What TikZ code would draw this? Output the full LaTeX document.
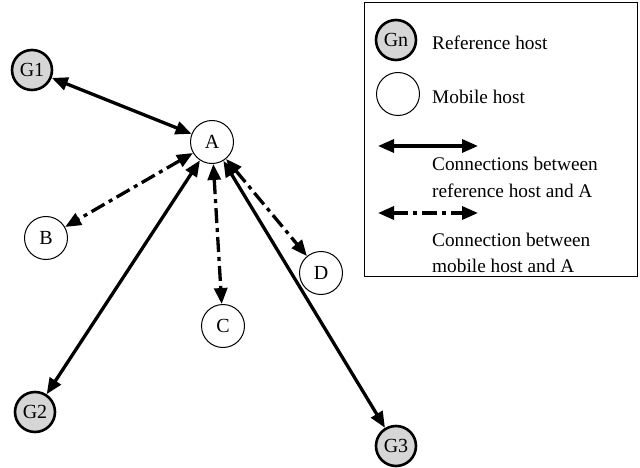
\documentclass[tikz,border=0pt]{standalone}
\usepackage{fontspec}
\setmainfont{Liberation Serif}
\usetikzlibrary{arrows.meta}
\begin{document}
\begin{tikzpicture}[x=1pt,y=-1pt,
  every node/.style={font=\fontsize{19.3}{21}\selectfont},
  mobile/.style={circle,draw,line width=1pt,minimum size=43pt,inner sep=0pt,fill=white,font=\fontsize{20}{22}\selectfont},
  refhost/.style={circle,draw,line width=2.6pt,minimum size=40pt,inner sep=0pt,fill=black!16,font=\fontsize{20}{22}\selectfont},
  link/.style={line width=3.3pt,{Triangle[length=16pt,width=13pt]}-{Triangle[length=16pt,width=13pt]}},
  mlink/.style={link,dash pattern=on 15pt off 5pt on 4pt off 5pt},
  lbl/.style={anchor=west,inner sep=0pt}]
\useasboundingbox (0,0) rectangle (640,468);

% hosts
\node[mobile]  (A)  at (212,142) {A};
\node[mobile]  (B)  at (46,238)  {B};
\node[mobile]  (C)  at (223,326) {C};
\node[mobile]  (D)  at (321,273) {D};
\node[refhost] (G1) at (32,70)   {G1};
\node[refhost] (G2) at (35,412)  {G2};
\node[refhost] (G3) at (396,446) {G3};

% connections to A
\draw[link]  (G1) -- (A);
\draw[link]  (A) -- (G2);
\draw[link]  (A) -- (G3);
\draw[mlink] (A) -- (B);
\draw[mlink] (A) -- (C);
\draw[mlink] (A) -- (D);

% legend
\draw[line width=0.8pt] (364,2) rectangle (637,276);
\node[refhost] (LG) at (396,40) {Gn};
\node[lbl] (LGt) at (432,43) {Reference host};
\node[mobile] (LM) at (398,94) {};
\node[lbl] (LMt) at (432,97) {Mobile host};
\coordinate (S1) at (378,146);
\coordinate (S2) at (478,146);
\draw[link] (S1) -- (S2);
\node[lbl] (LS1) at (432,164) {Connections between};
\node[lbl] (LS2) at (432,191) {reference host and A};
\coordinate (M1) at (378,213);
\coordinate (M2) at (478,213);
\draw[mlink] (M1) -- (M2);
\node[lbl] (LM1) at (432,240) {Connection between};
\node[lbl] (LM2) at (432,266) {mobile host and A};
\end{tikzpicture}
\end{document}
